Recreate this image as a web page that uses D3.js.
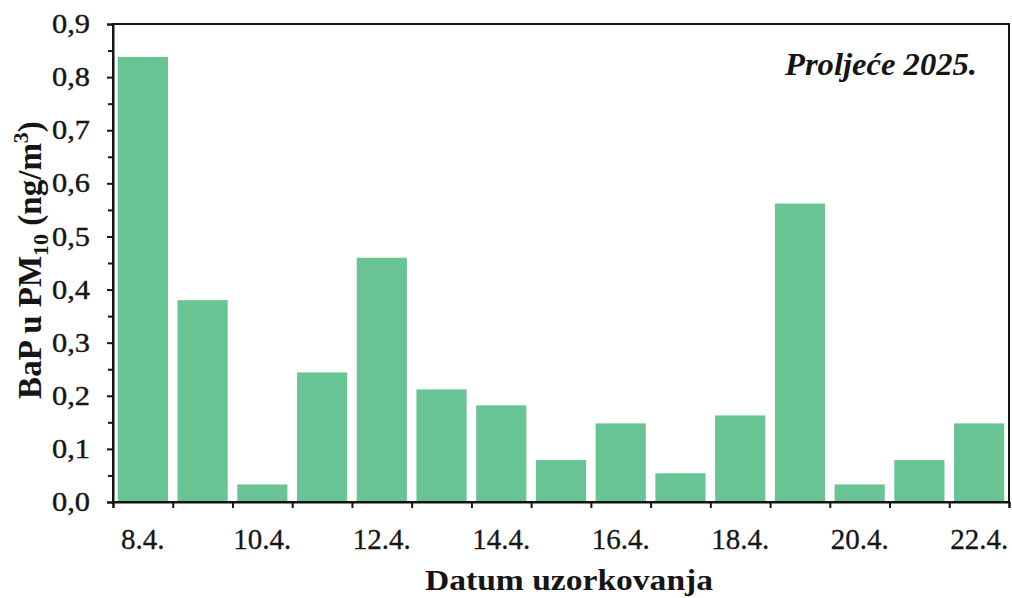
<!DOCTYPE html>
<html><head><meta charset="utf-8">
<script src="https://cdn.jsdelivr.net/npm/d3@7"></script>
<style>body{margin:0;background:#fff}svg{display:block}</style>
</head><body>
<svg id="c" width="1012" height="598"></svg>
<script>
const dates = ["8.4.","9.4.","10.4.","11.4.","12.4.","13.4.","14.4.","15.4.","16.4.","17.4.","18.4.","19.4.","20.4.","21.4.","22.4."];
const bap = [0.838,0.38,0.033,0.244,0.46,0.212,0.182,0.079,0.148,0.054,0.163,0.562,0.033,0.079,0.148];
const yTicks = [0,0.1,0.2,0.3,0.4,0.5,0.6,0.7,0.8,0.9];
const yMinor = [0.05,0.15,0.25,0.35,0.45,0.55,0.65,0.75,0.85];
const xLabels = ["8.4.","10.4.","12.4.","14.4.","16.4.","18.4.","20.4.","22.4."];

const svg = d3.select("#c");
const L = 113, R = 1009, T = 24, B = 502;
const font = "'Liberation Serif','Times New Roman',serif";
const ink = "#151515";
const x = d3.scaleBand().domain(dates).range([L, R]).paddingInner(0.16).paddingOuter(0.08);
const y = d3.scaleLinear().domain([0, 0.9]).range([B, T]);

svg.append("g").selectAll("rect").data(bap).join("rect")
  .attr("x", (d,i) => x(dates[i])).attr("width", x.bandwidth())
  .attr("y", d => y(d)).attr("height", d => B - y(d))
  .attr("fill", "#69c494");

// frame
svg.append("rect").attr("x", L).attr("y", T).attr("width", R - L).attr("height", B - T)
  .attr("fill", "none").attr("stroke", ink).attr("stroke-width", 2);

// y axis
const fmt = d => d3.format(".1f")(d).replace(".", ",");
const ya = svg.append("g").attr("transform", `translate(${L},0)`)
  .call(d3.axisLeft(y).tickValues(yTicks).tickFormat(fmt).tickSize(6).tickPadding(17));
ya.select(".domain").attr("stroke", ink).attr("stroke-width", 2);
ya.selectAll(".tick line").attr("stroke", ink).attr("stroke-width", 2);
ya.selectAll("text").attr("font-family", font).attr("font-size", 27).attr("fill", ink)
  .attr("stroke", ink).attr("stroke-width", 0.4)
  .attr("textLength", 38).attr("lengthAdjust", "spacingAndGlyphs");
svg.append("g").attr("transform", `translate(${L},0)`)
  .call(d3.axisLeft(y).tickValues(yMinor).tickFormat("").tickSize(5))
  .call(g => { g.select(".domain").remove(); g.selectAll("line").attr("stroke", ink).attr("stroke-width", 2); });

// x axis: ticks at band boundaries
const xb = d3.scaleLinear().domain([0, dates.length]).range([L, R]);
svg.append("g").attr("transform", `translate(0,${B})`)
  .call(d3.axisBottom(xb).tickValues(d3.range(dates.length + 1)).tickFormat("").tickSize(6))
  .call(g => { g.select(".domain").attr("stroke", ink).attr("stroke-width", 2); g.selectAll("line").attr("stroke", ink).attr("stroke-width", 2); });

svg.append("g").selectAll("text").data(xLabels).join("text")
  .attr("x", d => x(d) + x.bandwidth() / 2).attr("y", 549)
  .attr("text-anchor", "middle").attr("font-family", font).attr("font-size", 29)
  .attr("fill", ink).attr("stroke", ink).attr("stroke-width", 0.3).text(d => d);

// axis titles
svg.append("text").attr("x", 569).attr("y", 590).attr("text-anchor", "middle")
  .attr("font-family", font).attr("font-weight", "bold").attr("font-size", 29).attr("fill", ink)
  .attr("textLength", 288).attr("lengthAdjust", "spacingAndGlyphs")
  .text("Datum uzorkovanja");

const yt = svg.append("text").attr("transform", "translate(41,260) rotate(-90)")
  .attr("text-anchor", "middle").attr("font-family", font).attr("font-weight", "bold")
  .attr("font-size", 33).attr("fill", ink);
yt.append("tspan").text("BaP u PM");
yt.append("tspan").attr("font-size", 22).attr("dy", 7).text("10");
yt.append("tspan").attr("dy", -7).text(" (ng/m");
yt.append("tspan").attr("font-size", 22).attr("dy", -13).text("3");
yt.append("tspan").attr("dy", 13).text(")");

svg.append("text").attr("x", 977).attr("y", 75).attr("text-anchor", "end")
  .attr("font-family", font).attr("font-weight", "bold").attr("font-style", "italic")
  .attr("font-size", 31).attr("fill", ink)
  .attr("textLength", 192).attr("lengthAdjust", "spacingAndGlyphs")
  .text("Proljeće 2025.");
</script>
</body></html>
